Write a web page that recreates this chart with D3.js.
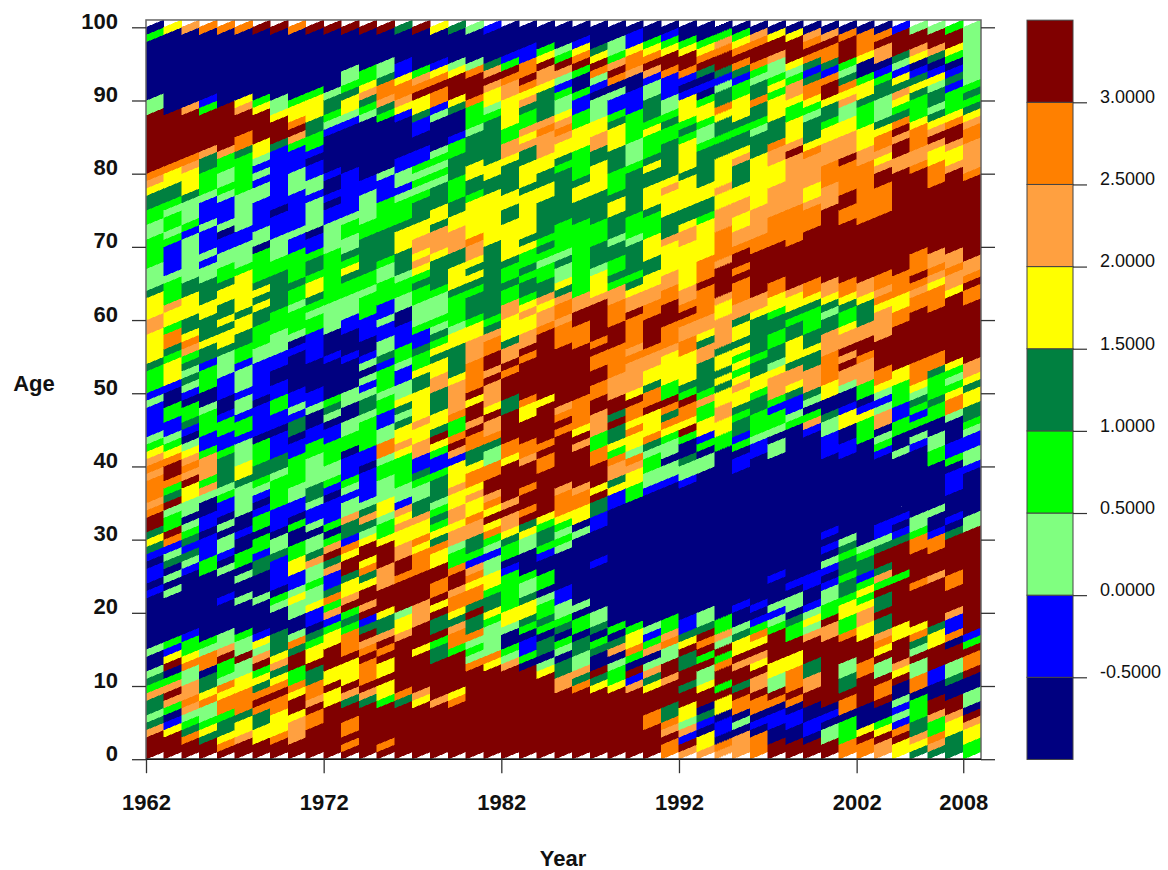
<!DOCTYPE html>
<html><head><meta charset="utf-8">
<style>html,body{margin:0;padding:0;background:#fff}svg{display:block}text{font-family:"Liberation Sans",Arial,sans-serif;fill:#111}</style>
<script src="https://cdn.jsdelivr.net/npm/d3@7/dist/d3.min.js"></script>
</head><body><svg id="c" width="1168" height="870"></svg>
<script>
const breaks=[-0.5,0,0.5,1,1.5,2,2.5,3];
const palette=["#000080","#0000ff","#80ff80","#00ff00","#008040","#ffff00","#ffa040","#ff8000","#800000"];
const yearTicks=[1962,1972,1982,1992,2002,2008];
const ageTicks=[0,10,20,30,40,50,60,70,80,90,100];
const firstYear=1962;
// One string per calendar year. Each token is band.startAge, where band indexes the legend bands from the bottom.
const bandRuns=[
"8.0 6.3 4.4 2.5 4.6 6.8 3.9 4.10 2.11 0.12 2.14 0.15 1.22 0.23 1.24 0.26 1.27 4.28 5.29 4.30 8.31 7.33 6.34 7.35 6.38 7.39 6.40 5.41 3.42 2.43 1.44 2.48 1.49 3.50 4.53 5.54 6.58 5.60 4.63 2.64 3.67 2.71 3.73 4.75 5.77 6.78 7.79 8.80 2.88 0.90 3.98 0.99",
"8.0 5.3 1.4 0.5 3.6 6.7 8.8 6.9 3.10 0.11 8.12 5.13 1.14 3.15 0.16 2.22 0.23 2.24 0.25 4.26 2.27 1.28 7.29 8.30 3.31 2.33 8.34 4.35 3.36 7.37 8.38 7.40 5.41 3.42 2.43 1.44 3.46 0.48 1.50 5.51 3.54 4.55 7.56 3.58 5.59 6.61 3.62 2.65 1.66 3.70 2.71 3.72 2.74 3.75 4.76 5.78 7.80 8.81 0.88 5.99",
"8.0 7.2 4.3 3.4 2.5 6.6 7.7 6.8 2.10 7.12 5.13 3.14 1.16 0.17 1.25 2.26 4.27 1.28 4.29 3.30 2.31 0.32 2.33 5.35 8.37 6.38 7.39 6.40 5.41 2.42 0.43 1.44 4.45 3.46 0.48 1.49 2.50 4.51 2.52 4.53 3.54 6.55 7.56 5.57 4.58 5.60 4.63 2.65 1.71 3.72 2.73 4.76 5.77 6.80 7.81 8.82 6.88 0.89 6.99",
"8.0 4.2 5.3 3.4 2.5 7.7 5.8 4.9 0.11 7.12 2.14 3.15 0.16 3.25 1.27 0.30 1.31 0.33 2.35 6.36 3.37 6.38 3.41 1.42 3.44 2.47 0.48 3.50 1.53 4.54 5.56 4.57 5.60 4.62 2.65 1.67 2.68 1.69 2.72 1.73 2.76 3.77 4.80 6.82 8.83 3.88 1.89 0.90 7.99",
"8.0 7.1 5.2 4.3 3.5 7.6 5.8 7.9 2.10 3.11 8.13 6.14 2.15 0.17 1.21 0.22 2.25 0.26 1.27 2.28 0.30 2.31 0.32 1.33 3.35 2.36 4.37 3.41 1.42 3.44 1.46 0.47 1.49 2.52 4.55 5.56 4.58 5.59 4.60 5.62 4.64 3.65 2.67 1.69 0.71 2.72 1.73 2.76 3.77 2.78 3.80 6.82 8.83 0.89 7.99",
"8.0 6.2 5.3 4.5 7.6 5.9 2.11 8.13 2.14 3.16 0.17 2.21 0.22 2.24 0.25 3.26 0.28 1.30 0.31 2.33 4.37 5.38 2.40 1.43 3.44 1.46 2.47 1.49 2.50 1.53 3.54 4.56 5.58 4.60 5.61 3.66 2.67 1.70 2.72 3.77 4.82 7.83 8.85 6.88 5.89 0.90 7.99",
"8.0 5.2 4.4 7.6 8.7 7.8 4.9 5.10 3.11 8.12 6.13 2.14 5.15 1.16 0.17 2.21 0.22 4.25 1.27 3.28 0.30 3.31 1.33 0.34 1.35 2.36 3.37 4.38 3.40 0.43 1.44 0.48 1.49 2.54 3.56 4.59 5.61 4.62 5.63 4.64 3.65 0.69 2.70 1.72 2.76 1.78 2.79 1.80 2.81 5.82 8.84 5.88 3.89 0.90 8.99",
"8.0 7.2 5.3 7.6 8.8 7.9 5.10 4.11 6.12 5.13 4.14 0.17 2.20 3.21 0.22 1.23 4.27 2.28 0.30 1.31 3.34 2.38 4.39 1.41 0.44 1.45 3.47 1.49 0.51 1.53 2.55 3.58 4.61 3.66 2.68 1.71 0.74 1.75 4.83 8.84 5.87 2.88 0.90 8.99",
"8.0 6.2 5.5 8.6 5.8 7.9 3.10 8.12 4.14 7.15 2.16 0.17 2.19 5.21 2.22 1.23 5.25 3.27 0.29 3.31 0.32 1.33 2.35 3.37 1.41 0.43 4.44 1.46 2.47 1.48 0.50 1.55 0.56 2.57 3.58 2.61 3.62 4.64 3.65 1.69 2.71 1.72 2.77 1.80 3.83 6.84 8.85 7.86 5.87 3.89 0.90 7.99",
"8.0 7.4 8.6 6.7 7.8 4.10 8.12 5.13 3.15 4.16 0.17 1.18 5.20 2.21 3.23 2.24 6.26 4.27 2.28 0.30 2.31 1.32 2.34 4.35 2.37 3.41 1.43 0.45 2.47 1.48 0.50 1.54 3.58 2.60 3.61 4.62 5.63 3.65 4.66 3.68 1.69 0.71 2.72 1.76 2.77 1.79 0.81 1.82 3.83 4.85 5.87 3.90 0.91 8.99",
"8.0 5.7 8.9 5.10 8.12 5.15 3.17 1.18 6.19 3.20 7.21 4.22 1.23 6.25 4.26 8.27 6.28 3.29 0.30 3.31 1.32 0.35 1.36 3.37 2.38 3.40 1.43 0.45 2.46 4.47 3.48 0.49 1.54 0.55 2.58 3.62 2.69 1.73 0.75 1.76 0.77 1.79 0.80 1.85 2.86 3.87 4.88 2.90 0.91 8.99",
"8.0 7.1 8.2 7.3 8.5 4.7 6.8 8.9 5.10 8.13 7.14 3.17 4.18 3.19 8.20 6.21 5.22 4.24 8.25 5.27 7.28 1.29 4.30 6.32 2.33 1.35 2.36 3.37 1.38 0.41 3.42 2.44 0.46 2.48 0.50 1.54 0.55 1.58 2.60 3.63 4.65 5.66 3.67 4.68 2.69 3.71 2.73 1.74 0.80 1.86 2.87 5.88 4.90 3.91 2.92 0.94 8.99",
"8.0 4.7 6.8 8.9 7.10 8.13 7.14 6.15 8.16 4.17 1.18 8.19 6.20 8.21 5.23 4.24 7.25 5.26 8.27 5.29 2.30 4.31 6.32 4.33 2.34 1.35 0.39 1.40 3.42 2.46 4.47 2.49 1.50 2.51 0.52 2.53 1.54 0.55 1.57 3.60 2.63 3.64 4.66 3.71 2.73 1.77 0.79 2.87 3.88 4.89 6.90 5.91 3.92 0.94 8.99",
"8.0 7.1 8.2 3.7 5.8 8.10 5.11 8.13 7.14 8.15 6.16 4.17 5.19 8.20 6.23 8.26 5.29 3.30 2.32 5.33 2.35 3.38 2.40 7.41 2.43 1.45 3.47 2.49 3.50 1.53 4.54 2.55 1.57 2.59 1.60 3.62 2.65 3.67 4.68 3.72 1.76 2.79 0.80 3.87 4.88 6.89 7.90 4.92 2.93 0.95 8.99",
"8.0 4.7 7.8 8.9 6.16 5.17 2.19 8.20 7.24 8.25 6.27 5.29 6.31 5.32 6.33 1.34 2.35 3.37 5.41 6.42 5.43 4.45 2.46 4.47 5.48 2.49 1.51 2.53 3.54 1.56 0.59 2.61 3.63 2.65 4.66 5.69 4.72 3.73 2.76 1.77 2.78 1.80 0.82 1.87 5.88 6.89 7.90 5.92 1.93 0.95 4.99",
"8.0 5.7 6.8 8.9 5.14 8.15 6.18 8.21 7.25 5.28 7.29 5.30 6.32 4.33 2.35 3.37 4.38 1.39 6.41 5.43 6.45 5.46 4.50 5.52 3.53 4.55 1.56 3.58 2.59 3.62 4.64 3.65 5.66 6.67 5.68 6.69 5.71 4.73 3.76 2.77 3.78 2.79 3.80 1.81 0.83 1.85 4.87 5.88 8.90 7.91 6.92 3.93 0.94 8.99",
"8.0 6.7 8.8 4.13 3.15 8.16 4.17 8.19 5.20 8.21 7.22 8.24 5.26 7.28 4.29 5.30 3.31 4.32 3.33 2.34 4.35 3.38 1.39 3.41 5.42 8.43 4.44 5.45 4.47 6.50 5.52 4.54 5.55 3.56 4.57 2.58 3.59 2.60 3.63 4.64 5.68 6.69 4.72 5.73 4.75 2.78 3.79 2.80 3.81 2.82 0.83 2.87 1.88 7.89 8.91 7.92 5.93 1.94 0.95 5.99",
"8.0 7.7 5.8 8.9 3.14 7.15 6.17 4.18 5.19 7.20 6.22 8.23 7.25 3.26 2.28 6.29 5.31 6.32 5.34 6.36 5.37 1.40 6.41 8.42 7.43 3.44 7.46 6.47 5.51 4.52 5.56 2.58 3.59 4.63 5.64 4.67 6.69 5.72 4.74 3.76 4.79 3.82 1.84 0.85 4.88 5.89 8.90 5.93 2.94 0.95 4.99",
"8.0 7.12 2.13 3.14 2.15 7.16 4.17 8.19 4.20 7.21 5.23 7.24 6.25 1.26 3.27 4.28 6.30 7.32 5.33 6.35 5.36 7.37 5.39 4.40 7.42 8.44 6.45 8.46 5.48 8.49 7.50 6.54 5.57 3.59 4.60 3.63 4.64 5.65 4.66 5.67 6.68 7.70 5.71 3.76 4.77 5.79 4.81 2.85 3.86 7.89 8.90 7.93 2.94 0.95 2.99",
"8.0 5.12 7.13 2.14 3.18 5.19 4.20 3.22 5.23 2.25 1.27 2.28 3.29 7.30 5.31 8.32 5.33 7.34 6.35 8.36 7.38 2.40 4.42 7.43 6.44 8.46 5.47 6.48 8.51 6.52 8.53 7.55 6.57 4.58 3.59 4.60 5.70 4.77 5.79 4.81 3.87 2.88 5.89 6.91 8.92 6.93 4.94 0.95 1.99",
"8.0 6.12 2.13 3.14 0.15 2.17 5.18 3.20 1.25 0.26 3.27 4.29 5.30 6.31 8.33 6.34 8.35 5.40 7.41 8.43 4.47 8.49 7.52 8.53 6.54 4.56 5.57 6.60 3.62 4.64 3.65 4.67 5.68 4.73 5.75 4.77 5.81 6.82 3.84 5.86 6.90 7.92 8.93 3.94 1.95 0.96",
"8.0 0.12 3.13 1.14 0.16 3.17 4.18 5.19 4.21 2.22 3.24 0.25 2.28 5.30 4.31 8.32 7.33 8.34 7.36 8.37 6.40 7.41 8.43 5.46 7.48 8.49 7.54 8.55 6.56 5.58 6.60 5.61 3.62 4.63 3.65 4.66 3.67 5.69 4.70 5.71 4.77 5.78 4.81 6.83 5.84 6.85 3.86 4.88 6.89 5.90 7.91 8.92 7.93 1.95 0.97",
"8.0 5.11 2.12 0.13 4.14 0.16 3.17 4.18 3.19 2.21 0.22 3.23 0.25 1.27 3.28 4.29 3.31 5.32 8.33 7.39 8.41 7.42 8.43 5.48 8.49 7.58 6.59 5.61 6.62 4.63 3.65 2.67 3.68 4.69 3.70 4.71 5.76 4.78 5.80 6.82 7.85 6.86 4.87 5.91 6.92 8.94 5.95 3.96 0.97",
"8.0 6.9 4.11 0.13 2.14 3.15 0.16 4.17 3.18 2.19 1.21 0.23 2.28 3.29 2.30 3.31 5.32 7.33 6.36 8.37 7.44 8.45 7.46 6.47 8.48 7.56 6.59 7.60 6.62 4.63 5.64 2.65 4.67 2.68 3.69 4.73 3.80 4.81 5.82 6.84 7.85 6.86 5.87 2.88 3.90 1.91 2.92 6.93 8.94 3.95 2.96 0.97",
"8.0 7.9 4.10 6.11 2.12 4.14 0.16 3.17 0.19 2.20 0.21 2.30 0.31 5.32 7.34 6.36 8.37 6.42 8.43 5.44 7.45 8.49 7.56 8.59 6.61 3.63 4.73 5.76 4.78 3.79 5.83 3.86 1.88 3.90 0.91 3.93 8.94 7.95 5.96 1.97 0.98",
"8.0 5.9 4.10 8.11 0.12 4.14 3.15 0.16 4.17 2.18 0.20 1.26 0.27 1.31 4.33 8.35 5.36 8.37 7.40 3.42 6.44 8.47 7.49 8.51 7.53 8.55 7.56 8.57 6.62 5.63 2.66 4.67 3.70 4.73 5.77 4.81 6.83 5.85 2.87 0.90 1.91 2.92 7.93 8.94 5.95 4.96 0.97",
"8.0 5.9 3.10 2.12 0.13 6.14 4.15 0.16 3.17 0.18 1.34 5.36 4.37 6.38 7.40 3.41 5.42 4.43 8.45 4.46 8.47 6.49 7.52 8.56 7.59 6.62 3.64 4.65 3.66 4.68 2.70 4.71 5.74 4.76 3.77 4.80 5.83 4.86 3.87 1.88 2.90 0.91 7.92 8.93 6.94 3.95 2.96 0.98",
"8.0 6.9 1.10 8.11 0.12 3.13 7.14 5.15 3.17 0.18 3.35 5.37 6.39 7.40 2.41 5.42 7.44 5.45 7.46 8.48 5.49 6.50 7.54 6.55 7.56 8.60 6.61 5.63 4.64 3.65 4.66 2.70 3.71 4.74 3.80 2.81 3.84 1.88 0.91 6.93 7.94 5.96 1.97 0.99",
"8.0 7.4 8.6 5.9 4.10 6.11 2.12 0.13 6.14 3.15 1.16 2.17 0.18 1.36 2.37 3.39 2.41 4.42 7.43 5.44 8.47 7.48 4.50 5.51 6.53 7.55 8.56 7.60 6.62 5.64 4.66 5.68 3.71 4.74 5.75 4.78 5.80 4.81 3.82 5.85 3.86 4.87 2.90 1.92 6.93 8.94 7.95 5.96 3.97 0.98",
"7.0 8.2 6.3 7.4 4.5 8.7 6.10 8.11 2.13 7.15 6.16 3.17 0.19 1.37 2.38 0.40 2.41 3.43 5.44 7.45 4.46 7.47 8.48 3.49 5.51 6.55 7.56 8.59 7.62 6.64 5.66 6.70 4.71 5.74 6.77 5.78 4.79 3.84 4.86 3.87 2.88 1.90 7.93 8.94 5.96 3.97 1.98 0.99",
"6.0 8.1 1.2 6.3 2.4 5.5 8.7 4.9 8.10 4.12 8.14 5.15 4.16 1.17 0.19 1.37 2.38 4.40 0.41 3.43 8.44 5.45 7.46 8.48 3.49 4.50 5.51 7.55 6.57 7.59 8.60 7.61 6.62 5.64 6.70 5.72 4.73 5.75 4.79 5.80 3.84 4.85 3.86 5.87 1.90 0.91 1.92 7.93 8.94 5.96 3.97 0.98",
"6.0 5.1 0.3 1.4 4.5 0.6 8.7 5.9 2.10 8.12 3.13 8.14 7.15 8.16 4.17 2.18 0.20 2.39 0.41 3.42 1.43 5.44 3.46 6.48 3.49 4.50 6.54 4.56 5.57 6.58 7.60 8.64 7.65 5.68 3.73 4.74 5.76 4.78 3.83 2.84 3.86 5.87 3.89 0.90 1.91 0.92 4.93 8.94 7.95 5.96 3.97 0.98",
"6.0 7.1 0.2 1.3 0.5 5.6 8.8 3.9 8.10 7.12 3.13 8.14 2.15 6.16 3.17 0.19 3.42 5.44 6.46 5.48 4.50 5.51 4.52 5.53 4.55 6.56 5.60 6.62 8.63 6.67 7.68 6.72 5.75 6.77 5.78 4.82 3.84 4.85 5.87 7.88 4.89 2.91 1.92 4.93 8.94 7.96 6.97 3.98 0.99",
"6.0 0.3 2.4 0.5 7.6 8.8 4.9 8.10 6.12 8.13 5.14 4.16 2.17 0.18 1.20 0.21 1.39 0.41 3.42 1.43 4.44 3.46 4.47 5.48 6.50 5.51 3.52 5.53 3.54 5.55 4.56 5.57 4.59 6.60 7.62 8.65 7.66 8.67 7.69 6.70 5.72 6.74 5.76 4.78 6.81 5.82 4.83 3.85 4.86 5.87 3.90 1.92 4.93 7.94 8.95 7.96 5.97 3.98 0.99",
"7.0 0.3 1.4 0.5 7.6 8.8 6.9 8.11 5.12 6.13 8.14 5.15 7.16 3.17 1.18 0.19 1.20 0.21 1.41 2.43 3.44 4.47 3.49 5.50 4.52 3.54 4.55 5.60 6.61 8.63 7.69 6.71 5.75 4.82 2.85 3.86 4.87 7.89 4.90 2.92 3.93 7.94 8.95 7.97 6.98 0.99",
"8.0 0.2 1.4 0.6 7.7 8.8 2.9 5.11 8.13 3.17 2.18 1.19 2.20 0.21 1.24 0.25 2.41 0.43 2.44 3.45 1.47 3.48 6.49 5.52 2.53 4.54 3.56 4.58 3.60 5.61 7.63 8.65 7.70 6.74 5.78 6.81 7.83 4.84 5.87 3.90 5.91 3.92 2.93 6.95 8.96 5.98 0.99",
"8.0 0.2 1.4 0.6 7.7 8.8 7.9 5.12 8.14 3.16 4.18 0.19 2.20 0.22 1.23 0.24 3.45 2.46 1.47 4.49 5.50 6.51 4.53 5.54 4.57 3.59 4.60 5.61 6.63 8.64 7.70 6.75 8.82 6.83 5.84 3.87 5.89 6.90 3.92 2.93 5.94 8.95 5.98 0.99",
"8.0 0.2 1.3 0.5 8.7 6.9 4.11 8.13 6.16 2.17 5.18 2.19 1.20 0.21 1.23 0.25 1.44 6.45 3.46 0.47 2.48 4.49 6.50 4.53 5.55 4.56 3.58 4.61 5.62 7.63 8.65 7.72 6.75 5.76 6.78 7.82 5.83 4.84 2.87 3.88 5.89 7.90 4.92 1.93 4.94 7.95 8.96 7.97 6.98 0.99",
"8.0 2.2 0.4 1.5 0.6 8.7 6.16 8.18 3.19 2.21 1.23 0.24 1.25 2.26 0.27 1.28 0.29 1.30 0.31 1.41 2.44 4.46 0.47 5.49 7.51 6.55 4.58 2.60 4.61 5.62 6.63 8.65 6.75 7.78 6.81 5.84 3.86 4.87 5.89 8.90 7.92 1.93 4.94 7.95 8.97 6.98 0.99",
"7.0 3.2 0.5 7.6 8.8 4.9 2.11 8.13 7.16 3.17 5.19 3.21 4.22 3.24 4.25 3.27 4.28 2.29 0.30 1.41 0.43 5.45 1.47 0.48 2.50 6.51 8.53 6.54 8.55 6.56 5.58 3.59 4.61 5.62 7.63 8.65 7.73 8.75 7.77 8.81 6.82 5.85 2.87 6.89 5.90 7.91 4.92 2.93 3.94 8.95 7.98 0.99",
"7.0 8.2 5.3 0.4 8.7 7.11 8.13 5.16 6.18 5.20 3.21 5.22 3.23 1.24 4.25 3.27 2.28 0.29 3.43 5.46 1.47 0.48 3.49 6.51 7.54 8.55 6.57 4.59 5.62 6.63 8.65 7.73 6.81 5.83 3.86 4.89 5.90 3.92 0.93 5.95 7.96 0.99",
"6.0 8.2 5.3 3.4 0.5 8.7 7.8 8.10 2.11 8.13 5.14 7.15 6.16 4.17 8.19 4.20 8.22 3.23 6.24 4.25 8.26 4.28 2.29 1.30 0.32 1.41 3.42 2.43 0.44 6.45 2.47 1.48 2.49 5.50 7.51 8.53 6.57 5.61 7.62 6.63 7.64 8.66 7.74 8.78 6.80 5.81 6.82 7.83 5.85 4.86 2.87 4.90 3.92 1.93 0.94 6.95 8.97 7.98 0.99",
"5.0 8.2 7.3 1.4 2.5 1.6 2.7 0.8 8.10 5.11 6.12 8.13 5.16 8.18 3.24 8.25 4.29 1.30 0.31 1.32 0.33 2.41 0.42 3.44 1.46 3.48 5.51 8.53 7.59 5.61 7.63 8.66 6.80 8.82 6.84 8.85 7.86 4.87 3.88 5.89 6.90 4.91 5.92 1.93 2.94 4.95 8.96 1.99",
"4.0 5.1 6.2 4.3 3.5 0.8 7.9 2.11 8.13 2.14 4.15 7.16 5.17 8.18 7.23 8.24 7.28 3.30 2.31 0.33 1.42 2.43 0.44 3.45 1.46 3.47 4.48 2.49 5.50 7.51 8.54 7.61 6.63 7.64 8.65 7.66 8.69 7.80 6.81 7.83 5.86 3.87 4.90 5.91 4.92 1.93 0.94 5.95 6.96 8.97 2.99",
"4.0 6.1 7.2 3.3 6.5 8.6 0.8 1.10 8.12 5.15 4.17 8.18 6.24 8.25 7.28 1.30 0.31 2.33 0.34 3.40 2.42 0.44 3.46 4.48 3.49 4.52 7.53 8.55 7.61 5.64 6.65 7.66 6.67 8.69 7.78 5.81 6.83 8.84 6.85 5.86 4.87 2.88 4.89 2.91 5.92 1.93 0.94 4.95 6.96 8.97 2.99",
"4.0 5.3 6.5 8.6 0.8 4.10 2.11 8.13 0.15 7.16 1.17 6.19 8.20 7.23 8.25 4.30 0.31 1.32 0.33 1.36 0.39 3.40 1.41 0.43 2.46 7.47 5.49 3.50 2.51 3.52 5.53 8.54 5.63 6.64 7.66 6.67 8.69 6.80 5.81 6.83 8.84 7.86 5.87 3.88 1.91 4.92 1.93 0.94 3.95 5.96 8.97 3.99",
"3.0 5.2 6.4 8.5 0.6 2.7 0.9 8.11 7.12 8.14 3.15 1.16 8.17 2.31 0.33 1.39 2.40 1.42 2.44 3.45 4.46 5.48 4.50 5.51 6.52 8.54 7.62 8.64 7.65 6.66 8.68 7.79 6.80 7.84 6.86 5.87 4.88 3.89 4.90 3.91 2.92"
];

const maxAge=100, nYears=bandRuns.length;
const x=d3.scaleLinear().domain([firstYear,firstYear+nYears]).range([146,981]);
const y=d3.scaleLinear().domain([0,100]).range([759.2,27.3]);
const color=d3.scaleThreshold().domain(breaks).range(palette);
const bandValue=b=>-0.75+0.5*b;

const cells=[];
bandRuns.forEach((s,i)=>{
  const runs=s.split(" ").map(t=>t.split(".").map(Number));
  runs.forEach(([band,start],j)=>{
    const end=j+1<runs.length?runs[j+1][1]:maxAge;
    for(let a=start;a<end;a++)cells.push({year:firstYear+i,age:a,value:bandValue(band)});
  });
});

const svg=d3.select("#c");
const clipTop=y(101);
svg.append("clipPath").attr("id","plot").append("rect")
  .attr("x",x.range()[0]).attr("y",clipTop).attr("width",x.range()[1]-x.range()[0]).attr("height",y(0)-clipTop);

const line=d3.line();
svg.append("g").attr("clip-path","url(#plot)").attr("shape-rendering","crispEdges")
  .selectAll("path").data(cells).join("path")
  .attr("fill",d=>color(d.value)).attr("stroke",d=>color(d.value)).attr("stroke-width",0.5)
  .attr("d",d=>line([[x(d.year),y(d.age)],[x(d.year+1),y(d.age+1)],[x(d.year+1),y(d.age+2)],[x(d.year),y(d.age+1)]])+"Z");

// frame
svg.append("rect").attr("x",x.range()[0]).attr("y",clipTop).attr("width",x.range()[1]-x.range()[0]).attr("height",y(0)-clipTop)
  .attr("fill","none").attr("stroke","#666").attr("stroke-width",1.5);
svg.append("line").attr("x1",x.range()[0]).attr("x2",x.range()[1]).attr("y1",y(0)).attr("y2",y(0)).attr("stroke","#111").attr("stroke-width",1.5);

const styleAxis=g=>{g.select(".domain").remove();g.selectAll(".tick line").attr("stroke","#333").attr("stroke-width",1.3);};
const axisFont='700 22px "Liberation Sans",Arial,sans-serif';
svg.append("g").attr("transform",`translate(${x.range()[0]},0)`)
  .call(d3.axisLeft(y).tickValues(ageTicks).tickSize(14).tickPadding(14).tickFormat(d3.format("d")))
  .call(styleAxis).call(g=>g.selectAll("text").style("font",axisFont).attr("fill","#111").attr("dy","0.05em"));
svg.append("g").attr("transform",`translate(${x.range()[1]},0)`)
  .call(d3.axisRight(y).tickValues(ageTicks).tickSize(14).tickFormat(""))
  .call(styleAxis);
svg.append("g").attr("transform",`translate(0,${y(0)})`)
  .call(d3.axisBottom(x).tickValues(yearTicks).tickSize(14).tickPadding(21).tickFormat(d3.format("d")))
  .call(styleAxis).call(g=>g.selectAll("text").style("font",axisFont).attr("fill","#111"));

svg.append("text").attr("x",563).attr("y",866).attr("text-anchor","middle").style("font",axisFont).text("Year");
svg.append("text").attr("x",34).attr("y",391).attr("text-anchor","middle").style("font",axisFont).text("Age");

// legend
const lx0=1027,lx1=1073;
const ly=d3.scaleLinear().domain([-0.5,3]).range([677.3,102.3]);
const step=breaks[1]-breaks[0];
const bands=palette.map((c,i)=>({c,lo:breaks[0]+(i-1)*step,hi:breaks[0]+i*step}));
svg.append("g").selectAll("rect").data(bands).join("rect")
  .attr("x",lx0).attr("width",lx1-lx0).attr("y",d=>ly(d.hi)).attr("height",d=>ly(d.lo)-ly(d.hi))
  .attr("fill",d=>d.c).attr("stroke","#444").attr("stroke-width",1);
const legendFormat=d=>d3.format(".4f")(d).replace("\u2212","-");
svg.append("g").attr("transform",`translate(${lx1},0)`)
  .call(d3.axisRight(ly).tickValues(breaks).tickSize(14).tickPadding(13).tickFormat(legendFormat))
  .call(g=>{g.select(".domain").remove();g.selectAll(".tick line").attr("stroke","#333").attr("stroke-width",1.2);
    g.selectAll("text").style("font",'400 18px "Liberation Sans",Arial,sans-serif').attr("fill","#111").attr("dy","0.02em");});
</script></body></html>
